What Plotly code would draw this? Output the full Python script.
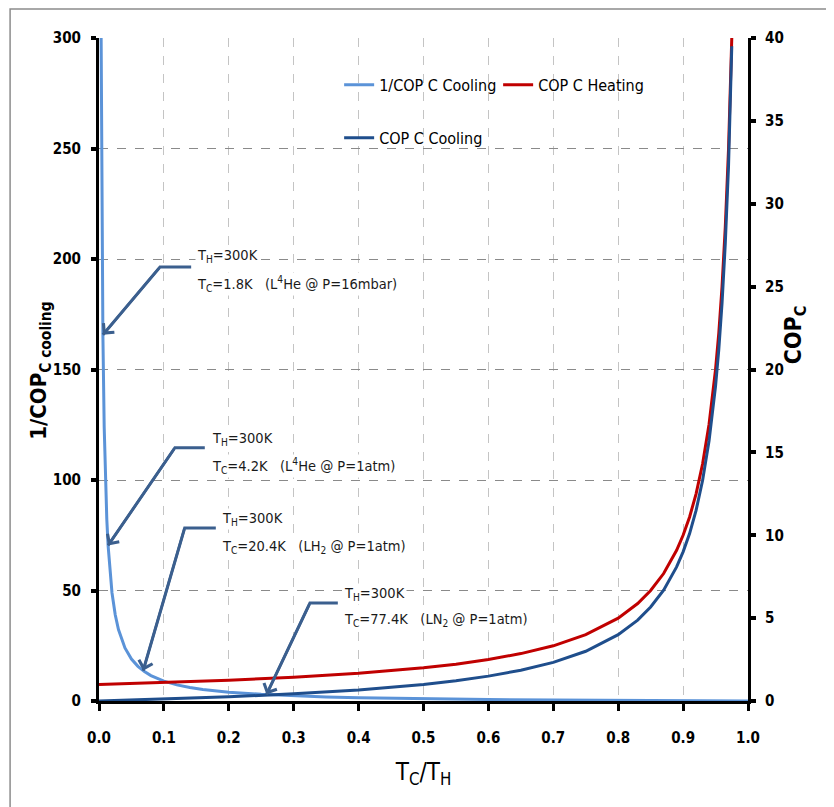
import plotly.graph_objects as go

# ---- data ----
x_inv = [0.0033, 0.004, 0.005, 0.006, 0.008, 0.01, 0.012, 0.014, 0.017, 0.02, 0.025, 0.03,
         0.04, 0.05, 0.06, 0.07, 0.08, 0.09, 0.1, 0.12, 0.14, 0.16, 0.18, 0.2, 0.25, 0.3,
         0.35, 0.4, 0.45, 0.5, 0.6, 0.7, 0.8, 0.9, 1.0]
inv_cop_cooling = [300, 249, 199, 166, 124, 99, 82.3, 70.4, 57.8, 49, 39, 32.3,
                   24, 19, 15.7, 13.3, 11.5, 10.1, 9, 7.3, 6.1, 5.25, 4.56, 4, 3, 2.33,
                   1.86, 1.5, 1.22, 1, 0.67, 0.43, 0.25, 0.11, 0]

x_cop = [0, 0.1, 0.2, 0.3, 0.4, 0.5, 0.55, 0.6, 0.65, 0.7, 0.75, 0.8, 0.83, 0.85, 0.87,
         0.89, 0.9, 0.91, 0.92, 0.93, 0.94, 0.95, 0.955, 0.96, 0.965, 0.97, 0.975]
cop_heating = [1, 1.11, 1.25, 1.43, 1.67, 2, 2.22, 2.5, 2.86, 3.33, 4, 5, 5.88, 6.67, 7.69,
               9.09, 10, 11.1, 12.5, 14.3, 16.7, 20, 22.2, 25, 28.6, 33.3, 40]
cop_cooling = [0, 0.11, 0.25, 0.43, 0.67, 1, 1.22, 1.5, 1.86, 2.33, 3, 4, 4.88, 5.67, 6.69,
               8.09, 9, 10.1, 11.5, 13.3, 15.7, 19, 21.2, 24, 27.6, 32.3, 39.5]

x_ticks = [0.0, 0.1, 0.2, 0.3, 0.4, 0.5, 0.6, 0.7, 0.8, 0.9, 1.0]

# annotated points: (x tip, y tip on left axis, elbow x, elbow y, line end x, text x, line1 y, line2 y, line2 text)
notes = [
    (0.006, 165.7, 0.094, 196.4, 0.142, 0.148, 201.4, 188.7,
     "T<sub>C</sub>=1.8K&nbsp;&nbsp;&nbsp;(L<sup>4</sup>He @ P=16mbar)"),
    (0.014, 70.4, 0.117, 114.6, 0.163, 0.171, 118.4, 106.2,
     "T<sub>C</sub>=4.2K&nbsp;&nbsp;&nbsp;(L<sup>4</sup>He @ P=1atm)"),
    (0.068, 13.7, 0.132, 78.3, 0.180, 0.186, 82.3, 69.6,
     "T<sub>C</sub>=20.4K&nbsp;&nbsp;&nbsp;(LH<sub>2</sub> @ P=1atm)"),
    (0.258, 2.9, 0.325, 44.3, 0.368, 0.374, 48.4, 36.7,
     "T<sub>C</sub>=77.4K&nbsp;&nbsp;&nbsp;(LN<sub>2</sub> @ P=1atm)"),
]

FONT = "DejaVu Sans Condensed, DejaVu Sans, sans-serif"
C_LIGHT = "#5B93D8"
C_RED = "#C00000"
C_DARK = "#1F4E8C"
C_ARROW = "#3B5F8E"

fig = go.Figure()
fig.add_trace(go.Scatter(x=x_inv, y=inv_cop_cooling, mode="lines", name="1/COP C Cooling",
                         line=dict(color=C_LIGHT, width=3), legend="legend", yaxis="y"))
fig.add_trace(go.Scatter(x=x_cop, y=cop_heating, mode="lines", name="COP C Heating",
                         line=dict(color=C_RED, width=3), legend="legend", yaxis="y2"))
fig.add_trace(go.Scatter(x=x_cop, y=cop_cooling, mode="lines", name="COP C Cooling",
                         line=dict(color=C_DARK, width=3), legend="legend2", yaxis="y2"))

annotations = []
shapes = []
for (xt, yt, xe, ye, xl, xtx, y1, y2, t2) in notes:
    # elbow connector: diagonal + horizontal leg, then arrowhead on top
    shapes.append(dict(type="path", xref="x", yref="y",
                       path=f"M {xt},{yt} L {xe},{ye} L {xl},{ye}",
                       line=dict(color=C_ARROW, width=3), layer="above"))
    annotations.append(dict(x=xt, y=yt, xref="x", yref="y", ax=xe, ay=ye, axref="x", ayref="y",
                            showarrow=True, arrowhead=4, arrowsize=1.1, arrowwidth=2.5,
                            arrowcolor=C_ARROW, text=""))
    annotations.append(dict(x=xtx, y=y1, xref="x", yref="y", text="T<sub>H</sub>=300K",
                            showarrow=False, xanchor="left", yanchor="middle",
                            font=dict(family=FONT, size=14.5, color="#1a1a1a"),
                            bgcolor="white", borderpad=1))
    annotations.append(dict(x=xtx, y=y2, xref="x", yref="y", text=t2,
                            showarrow=False, xanchor="left", yanchor="middle",
                            font=dict(family=FONT, size=14.5, color="#1a1a1a"),
                            bgcolor="white", borderpad=1))

# axis titles
annotations.append(dict(x=-0.115, y=0.498, xref="paper", yref="paper", showarrow=False,
                        text="<b>1/COP<sub>C cooling</sub></b>", textangle=-90,
                        font=dict(family=FONT, size=22, color="black")))
annotations.append(dict(x=1.099, y=0.552, xref="paper", yref="paper", showarrow=False,
                        text="<b>COP<sub>C</sub></b>", textangle=-90,
                        font=dict(family=FONT, size=23, color="black")))

# white box behind legend (hides gridlines), and outer chart border
shapes.append(dict(type="rect", xref="paper", yref="paper", x0=0.356, x1=0.849, y0=0.807, y1=0.964,
                   fillcolor="white", line=dict(width=0), layer="between"))
shapes.append(dict(type="rect", xref="paper", yref="paper", x0=-0.137, x1=1.125, y0=-0.2, y1=1.0437,
                   line=dict(color="#8c8c8c", width=1.5), fillcolor="rgba(0,0,0,0)", layer="below"))

tickfont = dict(family=FONT, size=15, color="black", weight="bold")
fig.update_layout(
    width=826, height=799,
    margin=dict(l=91, r=86, t=30, b=106),
    paper_bgcolor="white", plot_bgcolor="white",
    font=dict(family=FONT, color="black"),
    xaxis=dict(range=[0, 1], tickvals=x_ticks, tickformat=".1f", showline=True, linewidth=3,
               linecolor="black", ticks="outside", ticklen=7, tickwidth=3, tickcolor="black",
               showgrid=True, gridcolor="#c4c4c4", griddash="dash", gridwidth=1, zeroline=False,
               tickfont=tickfont, ticklabelstandoff=14,
               title=dict(text="T<sub>C</sub>/T<sub>H</sub>", font=dict(family=FONT, size=24),
                          standoff=18)),
    yaxis=dict(range=[0, 300], dtick=50, showline=True, linewidth=3, linecolor="black",
               ticks="outside", ticklen=5, tickwidth=4, tickcolor="black",
               showgrid=True, gridcolor="#8a8a8a", griddash="dash", gridwidth=1, zeroline=False,
               tickfont=tickfont, ticklabelstandoff=7),
    yaxis2=dict(range=[0, 40], dtick=5, overlaying="y", side="right", showline=True, linewidth=3,
                linecolor="black", ticks="outside", ticklen=5, tickwidth=4, tickcolor="black",
                showgrid=False, zeroline=False, tickfont=tickfont, ticklabelstandoff=6),
    legend=dict(orientation="h", x=0.37, y=0.955, xanchor="left", yanchor="top",
                bgcolor="rgba(0,0,0,0)", font=dict(family=FONT, size=16, color="black"),
                itemwidth=30, entrywidth=114, tracegroupgap=0),
    legend2=dict(orientation="h", x=0.37, y=0.875, xanchor="left", yanchor="top",
                 bgcolor="rgba(0,0,0,0)", font=dict(family=FONT, size=16, color="black"),
                 itemwidth=30),
    annotations=annotations,
    shapes=shapes,
    showlegend=True,
)

fig.write_html("out.html")
